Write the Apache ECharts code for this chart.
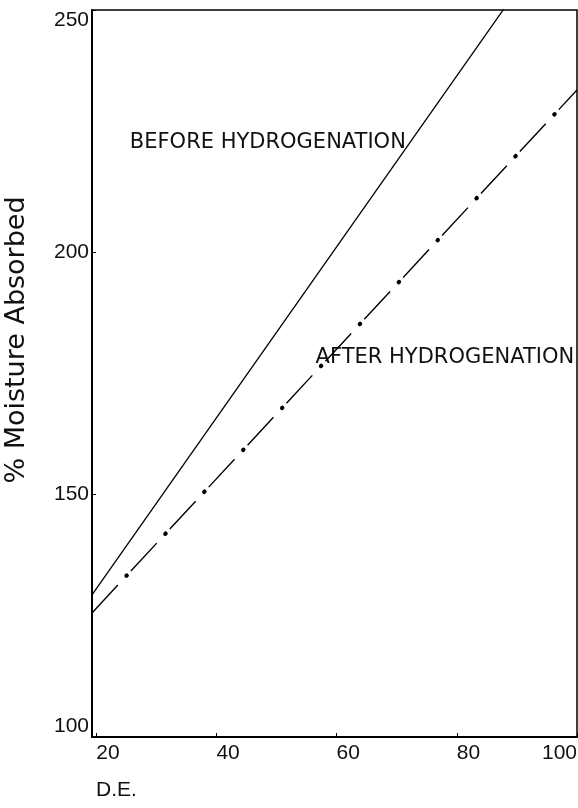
<!DOCTYPE html>
<html><head><meta charset="utf-8">
<script src="https://cdn.jsdelivr.net/npm/echarts@6/dist/echarts.min.js"></script>
<style>html,body{margin:0;padding:0;background:#fff}#c{width:578px;height:808px}</style>
</head><body><div id="c"></div>
<script>
const xTickValues = [20, 40, 60, 80, 100];
const yTickValues = [100, 150, 200, 250];
const beforeDE = [19.3, 100];
const beforeMoisture = [129.3, 271.7];
const afterDE = [19.3, 100];
const afterMoisture = [125.6, 233.5];
const annotationTexts = ['BEFORE HYDROGENATION', 'AFTER HYDROGENATION'];
const annotationDE = [25.6, 56.5];
const annotationMoisture = [222.7, 178.2];
const xName = 'D.E.';
const yName = '% Moisture Absorbed';

const tickFont = '"Liberation Sans", Arial, sans-serif';
const chart = echarts.init(document.getElementById('c'), null, {renderer: 'canvas'});
const zip = (a, b) => a.map((v, i) => [v, b[i]]);

chart.setOption({
  animation: false,
  backgroundColor: '#fff',
  grid: {left: 92, right: 1, top: 10, bottom: 71, containLabel: false, outerBoundsMode: 'none',
    show: true, borderColor: '#000', borderWidth: 1.5, backgroundColor: 'transparent'},
  xAxis: {
    type: 'value', min: 19.3, max: 100,
    axisLine: {show: true, lineStyle: {color: '#000', width: 2}},
    axisTick: {show: true, inside: true, length: 4, customValues: xTickValues, lineStyle: {color: '#000'}},
    axisLabel: {customValues: xTickValues, align: 'left', alignMaxLabel: 'right', margin: 6, fontSize: 21,
      color: '#111', fontFamily: tickFont, hideOverlap: false, showMaxLabel: true},
    splitLine: {show: false}
  },
  yAxis: {
    type: 'value', min: 100, max: 250, interval: 50,
    axisLine: {show: true, lineStyle: {color: '#000', width: 2}},
    axisTick: {show: true, inside: true, length: 4, customValues: yTickValues, lineStyle: {color: '#000'}},
    axisLabel: {customValues: yTickValues, margin: 3, fontSize: 21, color: '#111', fontFamily: tickFont,
      verticalAlignMinLabel: 'bottom', verticalAlignMaxLabel: 'top'},
    splitLine: {show: false}
  },
  series: [
    {name: 'Before', type: 'line', data: zip(beforeDE, beforeMoisture), symbol: 'none', clip: true,
      lineStyle: {color: '#000', width: 1.3}},
    {name: 'After', type: 'line', data: zip(afterDE, afterMoisture), symbol: 'none', clip: true,
      lineStyle: {color: '#000', width: 1.4, type: [38, 19.2], dashOffset: 0}},
    {name: 'AfterDots', type: 'line', data: zip(afterDE, afterMoisture), symbol: 'none', clip: true,
      lineStyle: {color: '#000', width: 4.2, type: [0.5, 56.7], cap: 'round', dashOffset: 6.6}}
  ]
});

const graphics = annotationTexts.map((t, i) => {
  const p = chart.convertToPixel({gridIndex: 0}, [annotationDE[i], annotationMoisture[i]]);
  return {type: 'text', x: p[0], y: p[1], style: {text: t, fill: '#111', fontSize: 21,
    fontFamily: '"DejaVu Sans", sans-serif', textAlign: 'left', textVerticalAlign: 'middle'}};
});
graphics.push({type: 'text', x: 17, y: 340, rotation: Math.PI / 2,
  style: {text: yName, fill: '#111', fontSize: 27, fontFamily: '"DejaVu Sans", sans-serif', textAlign: 'center', textVerticalAlign: 'middle'}});
graphics.push({type: 'text', x: 96, y: 790,
  style: {text: xName, fill: '#111', fontSize: 21, fontFamily: tickFont, textAlign: 'left', textVerticalAlign: 'middle'}});
chart.setOption({graphic: graphics});
</script></body></html>
